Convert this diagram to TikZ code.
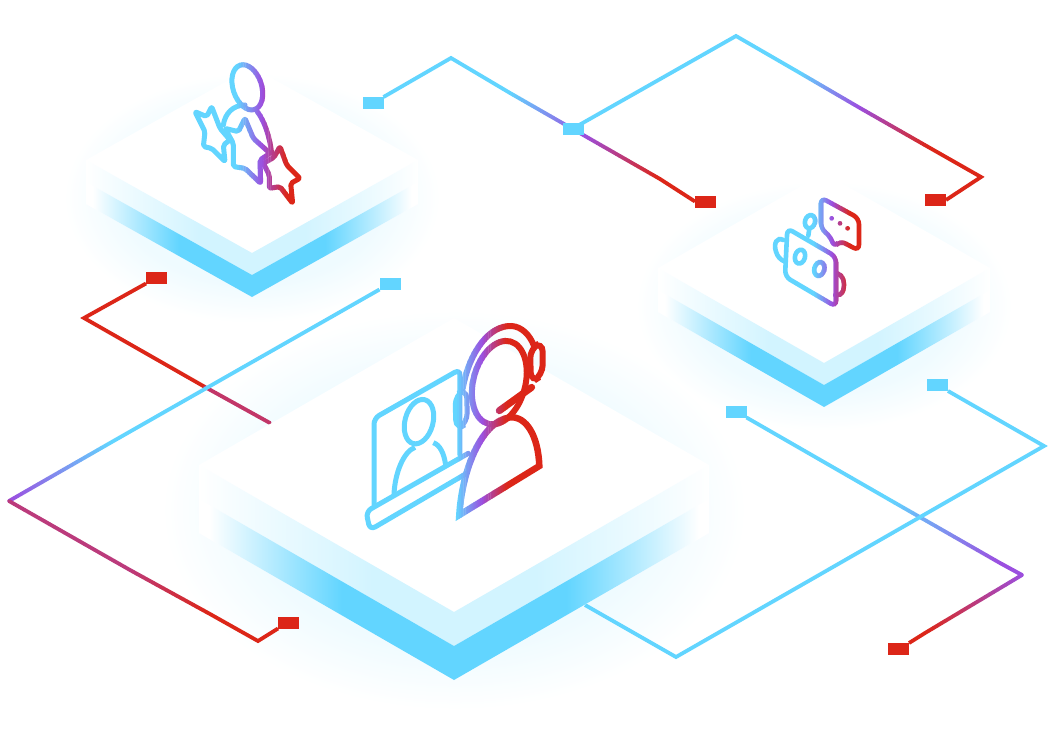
\documentclass[tikz,border=0pt]{standalone}
\usetikzlibrary{calc,backgrounds}
\definecolor{linecyan}{HTML}{62D5FF}
\definecolor{linepurple}{HTML}{9B4FE0}
\definecolor{linered}{HTML}{DC2618}
\definecolor{bandlight}{HTML}{D2F4FF}
\definecolor{halocyan}{HTML}{EFFBFF}
\pgfdeclarehorizontalshading{lightsh}{100bp}{color(0bp)=(white);color(25bp)=(white);color(42bp)=(bandlight);color(58bp)=(bandlight);color(75bp)=(white);color(100bp)=(white)}
\pgfdeclarehorizontalshading{darksh}{100bp}{color(0bp)=(white);color(26bp)=(white);color(39bp)=(linecyan);color(61bp)=(linecyan);color(74bp)=(white);color(100bp)=(white)}
\pgfdeclareradialshading{halosh}{\pgfpoint{0bp}{0bp}}{color(0bp)=(halocyan);color(17bp)=(halocyan);color(25bp)=(white);color(50bp)=(white)}
\tikzset{
  terminal/.style={minimum width=21pt,minimum height=12pt,inner sep=0pt,outer sep=0pt,fill=#1},
  wire/.style={line width=3.8pt,line join=miter},
  iconline/.style={line width=5pt,line join=round,line cap=round,rounded corners=2pt},
  botline/.style={line width=4.6pt,line cap=round},
}
\newcommand{\gradline}[4]{%
  \foreach \i in {1,...,24}{%
    \pgfmathsetmacro\ta{(\i-1)/24}\pgfmathsetmacro\tb{\i/24}\pgfmathsetmacro\pc{100-100*(\i-0.5)/24}%
    \draw[line width=3.8pt,line cap=round,draw=#3!\pc!#4] ($(#1)!\ta!(#2)$) -- ($(#1)!\tb!(#2)$);
  }}
%icon drawn once per vertical strip, each strip with its own colour
\newcommand{\bandicon}[3]{%
  \begin{scope}[color=linecyan]
    \clip ({#2-#3},0) rectangle (0,739); #1
  \end{scope}
  \begin{scope}[color=linered]
    \clip ({#2+#3},0) rectangle (1064,739); #1
  \end{scope}
  \foreach \i in {1,...,12}{%
    \pgfmathsetmacro\xa{#2-#3+(\i-1)*#3/12}\pgfmathsetmacro\xb{#2-#3+\i*#3/12+0.4}\pgfmathsetmacro\pc{100*(\i-0.5)/12}%
    \begin{scope}[color=linepurple!\pc!linecyan]
      \clip (\xa,0) rectangle (\xb,739); #1
    \end{scope}
    \pgfmathsetmacro\xa{#2+(\i-1)*#3/12}\pgfmathsetmacro\xb{#2+\i*#3/12+0.4}%
    \begin{scope}[color=linered!\pc!linepurple]
      \clip (\xa,0) rectangle (\xb,739); #1
    \end{scope}
  }}
\newcommand{\staricon}{%
  \begin{scope}[shift={(170,50)},scale=0.3333]
    \draw[line width=5pt,rotate around={18:(232,112)}] (232,112) ellipse [x radius=43,y radius=70];
    \draw[line width=5pt,line cap=round] (160,225) .. controls (165,190) and (190,165) .. (225,165);
    \draw[line width=5pt,line cap=round] (262,185) .. controls (285,215) and (300,265) .. (305,310);
    \draw[iconline] (75,185) -- (110,200) -- (125,170) -- (150,235) -- (180,270) -- (160,285) -- (165,335) -- (125,295) -- (100,290) -- (105,245) -- cycle;
    \draw[iconline] (165,235) -- (205,245) -- (225,205) -- (250,265) -- (300,310) -- (270,330) -- (272,400) -- (225,355) -- (190,350) -- (190,280) -- cycle;
    \draw[iconline] (280,340) -- (312,322) -- (330,290) -- (350,345) -- (390,385) -- (362,400) -- (368,460) -- (330,410) -- (298,415) -- (298,375) -- cycle;
  \end{scope}}
\newcommand{\boticon}{%
  \begin{scope}[shift={(760,185)},scale=0.3333]
    \draw[botline,rounded corners=6pt] (82,130) -- (228,215) -- (228,365) -- (75,275) -- cycle;
    \draw[botline,rotate around={-15:(120,215)}] (120,215) ellipse [x radius=15,y radius=21];
    \draw[botline,rotate around={-15:(178,252)}] (178,252) ellipse [x radius=15,y radius=21];
    \draw[botline] (70,165) .. controls (50,155) and (40,175) .. (48,200) .. controls (52,215) and (62,225) .. (75,230);
    \draw[botline] (232,265) .. controls (250,270) and (256,295) .. (250,315) .. controls (245,330) and (235,332) .. (226,330);
    \draw[botline] (145,152) -- (148,130);
    \draw[botline,rotate around={-15:(150,110)}] (150,110) ellipse [x radius=15,y radius=20];
    \draw[botline,rounded corners=6pt] (183,38) -- (297,100) -- (297,197) -- (240,167) -- (222,187) -- (212,155) -- (183,132) -- cycle;
    \fill (215,100) circle (7);
    \fill (240,115) circle (7);
    \fill (263,130) circle (7);
  \end{scope}}
\newcommand{\agenticon}{%
  \begin{scope}[shift={(350,310)},scale=0.3333]
    \draw[iconline,rounded corners=6pt] (72,585) -- (72,325) -- (330,178) -- (330,435);
    \draw[iconline,rounded corners=6pt] (355,430) -- (48,605) -- (60,660) -- (350,490);
    \draw[line width=5pt,rotate around={-15:(207,335)}] (207,335) ellipse [x radius=42,y radius=68];
    \draw[line width=5pt] (132,552) .. controls (135,490) and (160,425) .. (195,412);
    \draw[line width=5pt] (250,398) .. controls (270,405) and (282,430) .. (287,465);
    \draw[line width=6pt,rotate around={-15:(448,218)}] (448,218) ellipse [x radius=78,y radius=128];
    \draw[line width=6pt,line cap=round] (338,235) .. controls (360,120) and (420,45) .. (485,48) .. controls (515,50) and (540,75) .. (552,108);
    \draw[line width=5pt,rounded corners=10pt] (315,255) -- (350,235) -- (352,340) -- (318,360) -- cycle;
    \draw[line width=6pt,rounded corners=10pt] (540,115) -- (578,95) -- (578,195) -- (543,218) -- cycle;
    \draw[line width=7pt,line cap=round] (545,232) -- (448,302);
    \draw[line width=6.5pt,line join=miter] (328,615) .. controls (335,490) and (390,335) .. (480,322) .. controls (530,318) and (565,380) .. (568,468) -- cycle;
  \end{scope}}
\begin{document}
\begin{tikzpicture}[x=1pt,y=-1pt]
\useasboundingbox (0,0) rectangle (1064,739);
\coordinate (a1) at (451,58);
\coordinate (a2) at (510,93);
\coordinate (a3) at (585,136);
\coordinate (a4) at (660,179);
\coordinate (b1) at (736,36);
\coordinate (b2) at (800,73);
\coordinate (b3) at (860,108);
\coordinate (b4) at (930,148);
\coordinate (b5) at (981,177);
\coordinate (c1) at (84,318);
\coordinate (c2) at (205,387);
\coordinate (c3) at (270,423);
\coordinate (d1) at (110,443);
\coordinate (d2) at (9,501);
\coordinate (d3) at (130,570);
\coordinate (d4) at (210,614);
\coordinate (d5) at (258,641);
\coordinate (e1) at (890,500);
\coordinate (e2) at (1000,563);
\coordinate (e3) at (1022,575);
\coordinate (e4) at (925,633);
\coordinate (f1) at (1044,446);
\coordinate (f2) at (676,657);
\coordinate (f3) at (585,605);
\node[terminal=linecyan] (t1) at (373,103) {};
\node[terminal=linecyan] (t2) at (573,128.5) {};
\node[terminal=linered] (t3) at (705.5,201.5) {};
\node[terminal=linered] (t4) at (935.5,200) {};
\node[terminal=linered] (t5) at (156.5,277.5) {};
\node[terminal=linecyan] (t6) at (390,283.5) {};
\node[terminal=linered] (t7) at (288.5,622.5) {};
\node[terminal=linecyan] (t8) at (736,411.5) {};
\node[terminal=linecyan] (t9) at (937.5,385) {};
\node[terminal=linered] (t10) at (898.5,649) {};
\begin{pgfonlayer}{background}
\fill[white] (0,0) rectangle (1064,739);
%halos under the wires
\foreach \hx/\hy/\rx/\ry in {252/198/188/125,824/306/188/125,454/510/292/200}{
  \shade[shading=halosh] (\hx,\hy) ellipse [x radius=\rx,y radius=\ry];
}
\draw[wire,linecyan] (t1.north east) -- (a1) -- (a2);
\gradline{a2}{a3}{linecyan}{linepurple}
\gradline{a3}{a4}{linepurple}{linered}
\draw[wire,linered] (a4) -- (t3.west);
\draw[wire,linecyan] (t2.center) -- (b1) -- (b2);
\gradline{b2}{b3}{linecyan}{linepurple}
\gradline{b3}{b4}{linepurple}{linered}
\draw[wire,linered] (b4) -- (b5) -- (t4.east);
\draw[wire,linered] (t5.south west) -- (c1) -- (c2);
\gradline{c2}{c3}{linered}{linered!60!linepurple}
\draw[wire,linecyan] (t6.south west) -- (d1);
\gradline{d1}{d2}{linecyan}{linepurple}
\gradline{d2}{d3}{linepurple}{linepurple!50!linered}
\gradline{d3}{d4}{linepurple!50!linered}{linered}
\draw[wire,linered] (d4) -- (d5) -- (t7.south west);
\draw[wire,linecyan] (t8.south east) -- (e1);
\gradline{e1}{e2}{linecyan}{linepurple}
\gradline{e2}{e3}{linepurple}{linepurple}
\gradline{e3}{e4}{linepurple}{linered}
\draw[wire,linered] (e4) -- (t10.north east);
\draw[wire,linecyan] (t9.south east) -- (f1) -- (f2) -- (f3);
\end{pgfonlayer}
%the three slabs
\foreach \cx/\cy/\w/\h/\t in {252/160/166/93/22,824/268/166/95/22,454/465/255/147/34}{
  \fill[white] ({\cx-\w},\cy) -- (\cx,{\cy-\h}) -- ({\cx+\w},\cy) -- ({\cx+\w},{\cy+2*\t}) -- (\cx,{\cy+\h+2*\t}) -- ({\cx-\w},{\cy+2*\t}) -- cycle;
  \shade[shading=lightsh] ({\cx-\w},\cy) -- (\cx,{\cy+\h}) -- ({\cx+\w},\cy) -- ({\cx+\w},{\cy+\t}) -- (\cx,{\cy+\h+\t}) -- ({\cx-\w},{\cy+\t}) -- cycle;
  \shade[shading=darksh] ({\cx-\w},{\cy+\t}) -- (\cx,{\cy+\h+\t}) -- ({\cx+\w},{\cy+\t}) -- ({\cx+\w},{\cy+2*\t}) -- (\cx,{\cy+\h+2*\t}) -- ({\cx-\w},{\cy+2*\t}) -- cycle;
}
%icons
\bandicon{\staricon}{262}{25}
\bandicon{\boticon}{832}{18}
\bandicon{\agenticon}{482}{25}
\end{tikzpicture}
\end{document}
